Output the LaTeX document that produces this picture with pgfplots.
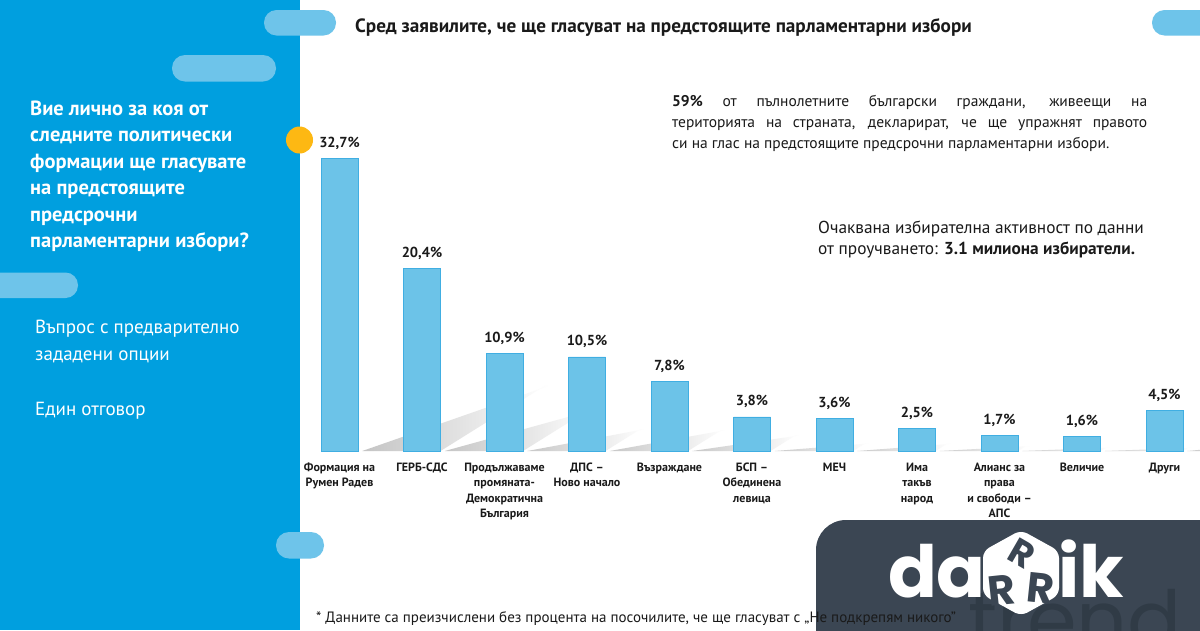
\documentclass[border=0pt]{standalone}
\usepackage{pgfplots}
\pgfplotsset{compat=1.18}
\usepackage{fontspec}
\setmainfont{PT Sans}
\newfontfamily\logofont{Poppins}
\definecolor{panelblue}{RGB}{0,159,223}
\definecolor{pill}{RGB}{110,196,234}
\definecolor{barfill}{RGB}{108,195,232}
\definecolor{baredge}{RGB}{64,174,226}
\definecolor{orangedot}{RGB}{253,184,19}
\definecolor{logobg}{RGB}{59,70,83}
\definecolor{trendc}{RGB}{48,59,70}
\definecolor{txt}{RGB}{26,26,26}
\newcommand\barshadow[2]{\shade[left color=black!26, middle color=black!20, right color=white] (axis cs:#1,0) ++(-18.5pt,0) -- ++(37pt,0) -- ++({3.2*#2pt},{2.0*#2pt}) -- ++(-37pt,0) -- cycle;}
\begin{document}
\begin{tikzpicture}[x=1pt,y=-1pt]
% background
\fill[white] (0,0) rectangle (1200,630);
\fill[panelblue] (0,0) rectangle (300,630);
% pills
\fill[pill, rounded corners=12.5] (264,10) rectangle (336,35.5);
\fill[pill, rounded corners=13] (172,55) rectangle (276,81.5);
\fill[pill, rounded corners=12.5] (-20,272.5) rectangle (78,298);
\fill[pill, rounded corners=13] (276,532) rectangle (324,558.5);
\fill[pill, rounded corners=12.5] (1152,10) rectangle (1230,35.5);
% orange dot
\fill[orangedot] (299.5,140) circle (13.5);
% title
\node[anchor=base west, inner sep=0, text=txt, font=\bfseries\fontsize{19.2}{19.2}\selectfont] at (355,32.5) {Сред заявилите, че ще гласуват на предстоящите парламентарни избори};
% left question
\begin{scope}[every node/.style={anchor=base west, inner sep=0, text=white, font=\bfseries\fontsize{20.5}{20.5}\selectfont}]
\node at (30,115) {Вие лично за коя от};
\node at (30,141.5) {следните политически};
\node at (30,168) {формации ще гласувате};
\node at (30,194.5) {на предстоящите};
\node at (30,221) {предсрочни};
\node at (30,247.5) {парламентарни избори?};
\end{scope}
\begin{scope}[every node/.style={anchor=base west, inner sep=0, text=white, font=\fontsize{19}{19}\selectfont}]
\node at (35,333) {Въпрос с предварително};
\node at (35,360) {зададени опции};
\node at (35,415) {Един отговор};
\end{scope}
% right paragraph
\node[anchor=base west, inner sep=0, text=txt, font=\fontsize{15.5}{21}\selectfont, text width=475pt, align=justify] at (672,106) {\textbf{59\%} от пълнолетните български граждани, живеещи на\linebreak територията на страната, декларират, че ще упражнят правото\linebreak си на глас на предстоящите предсрочни парламентарни избори.};
\node[anchor=base west, inner sep=0, text=txt, font=\fontsize{17.3}{21}\selectfont] at (818,233) {Очаквана избирателна активност по данни};
\node[anchor=base west, inner sep=0, text=txt, font=\fontsize{17.3}{21}\selectfont] at (818,254) {от проучването: \textbf{3.1 милиона избиратели.}};
% chart
\begin{axis}[
  at={(298.25pt,-451pt)}, anchor=south west,
  scale only axis, width=907.5pt, height=313.6pt,
  xmin=-0.5, xmax=10.5, ymin=0, ymax=35,
  axis line style={draw=none}, major tick length=0pt,
  ytick=\empty, clip=false,
  ybar, bar width=37pt,
  xtick={0,...,10},
  xticklabels={{Формация на\\Румен Радев},{ГЕРБ-СДС},{Продължаваме\\промяната-\\Демократична\\България},{ДПС –\\Ново начало},{Възраждане},{БСП –\\Обединена\\левица},{МЕЧ},{Има\\такъв\\народ},{Алианс за\\права\\и свободи –\\АПС},{Величие},{Други}},
  xticklabel style={font=\bfseries\fontsize{12}{15.5}\selectfont, text=txt, align=center, anchor=north, inner sep=0pt, yshift=-11.5pt},
  /pgf/number format/.cd, use comma, fixed, fixed zerofill, precision=1, assume math mode=true,
  /pgfplots/.cd,
  nodes near coords={\pgfmathprintnumber{\pgfplotspointmeta}\%},
  every node near coord/.append style={anchor=base, inner sep=0pt, yshift=11pt, text=txt, font=\bfseries\fontsize{14.5}{14.5}\selectfont},
]
\barshadow{0}{32.7}
\barshadow{1}{20.4}
\barshadow{2}{10.9}
\barshadow{3}{10.5}
\barshadow{4}{7.8}
\barshadow{5}{3.8}
\barshadow{6}{3.6}
\barshadow{7}{2.5}
\barshadow{8}{1.7}
\barshadow{9}{1.6}
\barshadow{10}{4.5}
\addplot[fill=barfill, draw=baredge, line width=0.8pt] coordinates {
 (0,32.7) (1,20.4) (2,10.9) (3,10.5) (4,7.8) (5,3.8) (6,3.6) (7,2.5) (8,1.7) (9,1.6) (10,4.5)};
\end{axis}
% logo
\begin{scope}
\clip (0,0) rectangle (1200,630);
\fill[logobg, rounded corners=30] (816,660) -- (816,520) -- (1230,520) -- (1230,660) -- cycle;
\node[anchor=base west, inner sep=0, text=trendc, font=\logofont\fontsize{80}{80}\selectfont] at (968,648) {trend};
\node[anchor=base east, inner sep=0, text=white, font=\logofont\bfseries\fontsize{72}{72}\selectfont] at (986,597) {da};
\fill[white, rounded corners=7] (1021,530) -- (1059,551) -- (1059,595) -- (1021,616) -- (983,595) -- (983,551) -- cycle;
\node[rotate=-30, text=logobg, font=\logofont\bfseries\fontsize{36}{36}\selectfont] at (1022,553) {R};
\node[rotate=6, text=logobg, font=\logofont\bfseries\fontsize{42}{42}\selectfont] at (1002,590) {R};
\node[rotate=-6, text=logobg, font=\logofont\bfseries\fontsize{42}{42}\selectfont] at (1041,588) {R};
\node[anchor=base west, inner sep=0, text=white, font=\logofont\bfseries\fontsize{72}{72}\selectfont] at (1058,597) {ik};
\end{scope}
% footnote
\node[anchor=base west, inner sep=0, text=txt, font=\fontsize{15}{15}\selectfont] at (316,622) {* Данните са преизчислени без процента на посочилите, че ще гласуват с „Не подкрепям никого”};
\pgfresetboundingbox
\path (0,0) rectangle (1200,630);
\end{tikzpicture}
\end{document}
